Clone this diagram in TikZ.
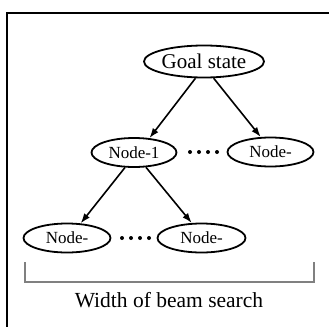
\documentclass[tikz,border=0pt]{standalone}
\usepackage{fontspec}
\setmainfont{Liberation Serif}
\usetikzlibrary{shapes.geometric,arrows.meta}

\tikzset{
  state/.style={ellipse, draw, line width=1.8pt, inner sep=0pt,
    minimum width=#1, minimum height=29pt, font=\fontsize{17}{19}\selectfont},
  state/.default=86pt,
  link/.style={line width=1.6pt, -{Latex[length=10pt,width=7pt]}},
  bracket/.style={draw=black!50, line width=1.7pt}
}

\begin{document}
\begin{tikzpicture}[x=1pt,y=-1pt]
  \useasboundingbox (0,0) rectangle (329,327);

  % outer frame (top and left edges)
  \draw[line width=1.4pt] (329,13) -- (7,13) -- (7,327);

  % tree nodes
  \node[state=120pt, minimum height=32pt, font=\fontsize{21}{23}\selectfont]
    (goal) at (204,61.5) {Goal state};
  \node[state=85pt] (n1) at (134,152.5) {Node-1};
  \node[state=86pt] (nr) at (270.5,152) {Node-};
  \node[state=87pt] (b1) at (67,238) {Node-};
  \node[state=88pt] (b2) at (201.5,238) {Node-};

  % ellipsis dots between siblings
  \coordinate (d1) at (203.5,152);
  \coordinate (d2) at (135.5,238);
  \foreach \c in {d1,d2}
    \foreach \k in {-1.5,-0.5,0.5,1.5}
      \fill ([xshift=\k*9pt]\c) circle (2pt);

  % edges
  \draw[link] (goal.243) -- (n1.43);
  \draw[link] (goal.300) -- (nr.123);
  \draw[link] (n1.239) -- (b1.47);
  \draw[link] (n1.309) -- (b2.123);

  % beam width bracket and caption
  \coordinate (bl) at (25,262);
  \coordinate (br) at (314,262);
  \draw[bracket] (bl) -- (25,282) -- (314,282) -- (br);
  \node[font=\fontsize{21.5}{23}\selectfont] (cap) at (169,300) {Width of beam search};
\end{tikzpicture}
\end{document}
